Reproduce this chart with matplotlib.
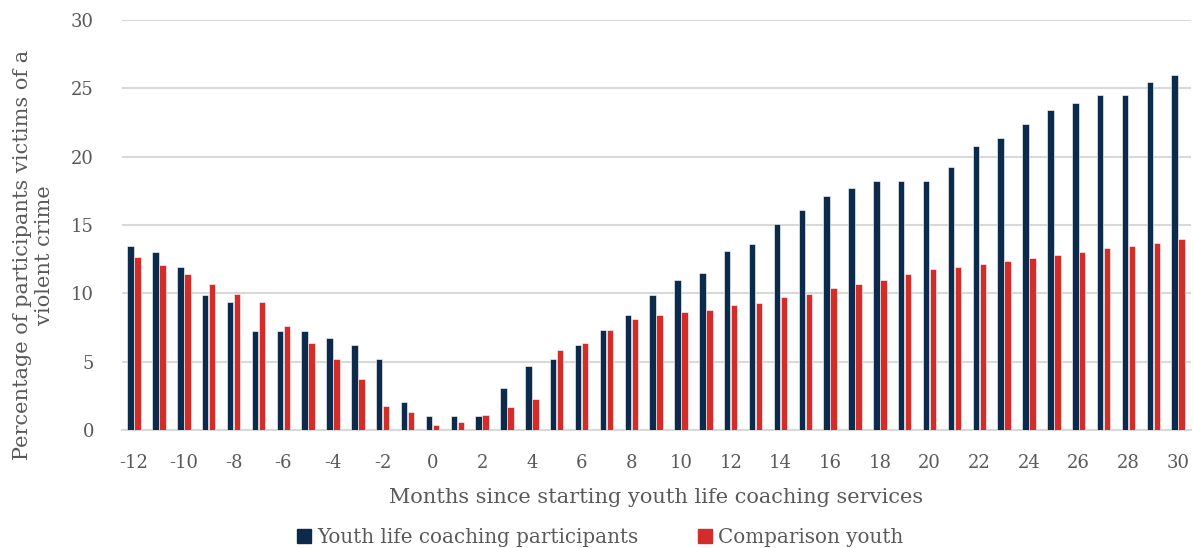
import numpy as np
import matplotlib
matplotlib.use('Agg')
import matplotlib.pyplot as plt
from matplotlib.patches import Patch

plt.rcParams.update({
    'font.family': ['DejaVu Serif'],
    'font.size': 12,
})

months = list(range(-12, 31))
participants = [13.5, 13.0, 11.95, 9.85, 9.35, 7.25, 7.25, 7.25, 6.75, 6.25, 5.2, 2.05,
                1.05, 1.05, 1.05, 3.1, 4.7, 5.2, 6.25, 7.3, 8.4, 9.9, 10.95, 11.5, 13.1,
                13.6, 15.1, 16.1, 17.15, 17.7, 18.2, 18.2, 18.2, 19.25, 20.8, 21.35,
                22.4, 23.45, 23.95, 24.5, 24.5, 25.5, 26.0]
comparison = [12.65, 12.1, 11.4, 10.7, 9.95, 9.4, 7.6, 6.4, 5.2, 3.7, 1.75, 1.3,
              0.4, 0.55, 1.07, 1.7, 2.3, 5.85, 6.35, 7.3, 8.15, 8.4, 8.65, 8.8, 9.15,
              9.3, 9.7, 9.95, 10.4, 10.7, 10.95, 11.4, 11.75, 11.9, 12.15, 12.35,
              12.6, 12.8, 13.0, 13.3, 13.5, 13.65, 14.0]
tick_months = list(range(-12, 31, 2))

navy = '#0c2a4b'
red = '#d22d29'
grey_text = '#595959'

fig = plt.figure(figsize=(11.93, 5.48), dpi=100)
ax = fig.add_axes([0.102, 0.2153, 0.896, 0.7482])

x = np.arange(len(months))
w = 0.26
ax.bar(x - 0.14, participants, width=w, color=navy, edgecolor='white', linewidth=0.4, zorder=3)
ax.bar(x + 0.14, comparison, width=w, color=red, edgecolor='white', linewidth=0.4, zorder=3)

ax.set_xlim(-0.5, len(months) - 0.5)
ax.set_ylim(0, 30)
ax.set_yticks(range(0, 31, 5))
ax.set_xticks([months.index(m) for m in tick_months])
ax.set_xticklabels([str(m) for m in tick_months])

ax.yaxis.grid(True, color='#d9d9d9', linewidth=1.5, zorder=0)
ax.set_axisbelow(True)
for side in ['top', 'right', 'left']:
    ax.spines[side].set_visible(False)
ax.spines['bottom'].set_color('#d9d9d9')
ax.spines['bottom'].set_linewidth(1.5)
ax.tick_params(axis='both', length=0, colors=grey_text, labelsize=13)
ax.tick_params(axis='y', pad=20)
ax.tick_params(axis='x', pad=17)

ax.set_ylabel('Percentage of participants victims of a\nviolent crime', fontsize=15,
              color=grey_text, linespacing=1.25)
ax.yaxis.set_label_coords(-0.063, 0.427)
ax.set_xlabel('Months since starting youth life coaching services', fontsize=15,
              color=grey_text, labelpad=12)

handles = [Patch(color=navy, label='Youth life coaching participants'),
           Patch(color=red, label='Comparison youth')]
fig.legend(handles=handles, loc='lower center', bbox_to_anchor=(0.503, -0.03), ncol=2,
           frameon=False, fontsize=14.3, handlelength=0.7, handleheight=0.7,
           handletextpad=0.3, columnspacing=3.0, labelcolor=grey_text)

fig.savefig('out.png', dpi=100)
